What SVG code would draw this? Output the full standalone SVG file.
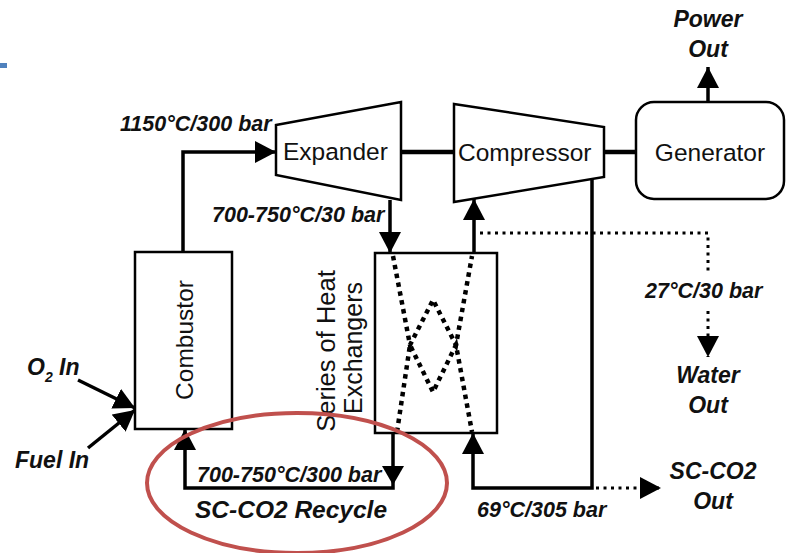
<svg xmlns="http://www.w3.org/2000/svg" width="786" height="553" viewBox="0 0 786 553">
<defs>
<style>
.box{fill:#fff;stroke:#000;stroke-width:2.5}
.flow{fill:none;stroke:#000;stroke-width:3.5}
.shaft{fill:none;stroke:#000;stroke-width:4.5}
.dot{fill:none;stroke:#000;stroke-width:3;stroke-dasharray:3 4.5}
.hxdot{fill:none;stroke:#000;stroke-width:4.5;stroke-dasharray:4.5 4.5}
.name{font-family:"Liberation Sans",Arial,sans-serif;font-size:24.5px;fill:#111}
.lbl{font-family:"Liberation Sans",Arial,sans-serif;font-size:21.5px;font-weight:bold;font-style:italic;fill:#111}
.big{font-family:"Liberation Sans",Arial,sans-serif;font-size:23px;font-weight:bold;font-style:italic;fill:#111}
</style>
<marker id="ah" markerUnits="userSpaceOnUse" markerWidth="21" markerHeight="22" viewBox="0 0 21 22" refX="21" refY="11" orient="auto">
<path d="M0,0 L21,11 L0,22 z" fill="#000"/>
</marker>
</defs>
<rect x="0" y="63" width="7" height="5" fill="#4f81bd"/>

<g id="connectors">
<path class="flow" d="M183,252 V152 H276" marker-end="url(#ah)"/>
<path class="flow" d="M390,200 V253" marker-end="url(#ah)"/>
<path class="shaft" d="M401,152 H454"/>
<path class="shaft" d="M604,152 H636"/>
<path class="flow" d="M708,102 V67" marker-end="url(#ah)"/>
<path class="flow" d="M474,253 V199" marker-end="url(#ah)"/>
<path class="dot" d="M480,233 H708 V272"/>
<path class="dot" d="M708,311 V357" marker-end="url(#ah)"/>
<path class="flow" d="M592,179 V488 H473 V433" marker-end="url(#ah)"/>
<path class="dot" d="M596,488 H661" marker-end="url(#ah)"/>
<path class="flow" d="M393,433 V488 H185 V429" marker-end="url(#ah)"/>
<path d="M382,466 L404,466 L393,485 z" fill="#000"/>
<path class="flow" d="M78,380 L135,408" marker-end="url(#ah)"/>
<path class="flow" d="M88,448 L135,410" marker-end="url(#ah)"/>
</g>

<g id="expander">
<polygon class="box" points="276,125 401,102 401,200 276,175"/>
<text class="name" x="283" y="160">Expander</text>
</g>
<g id="compressor">
<polygon class="box" points="454,104 604,127 604,177 454,202"/>
<text class="name" x="458" y="161">Compressor</text>
</g>
<g id="generator">
<rect class="box" x="636" y="102" width="148" height="97" rx="18"/>
<text class="name" x="710" y="161" text-anchor="middle">Generator</text>
</g>
<g id="combustor">
<rect class="box" x="135" y="252" width="97" height="177"/>
<text class="name" transform="translate(193,340) rotate(-90)" text-anchor="middle">Combustor</text>
</g>
<g id="heat-exchangers">
<rect class="box" x="375" y="253" width="122" height="180"/>
<path class="hxdot" d="M393,256 L410,345 L433,300 L456,345 L472,256"/>
<path class="hxdot" d="M397,432 L410,345 L433,392 L456,345 L472,432"/>
<text class="name" style="font-size:25.5px" transform="translate(335,351) rotate(-90)" text-anchor="middle">Series of Heat</text>
<text class="name" style="font-size:25px" transform="translate(362,348) rotate(-90)" text-anchor="middle">Exchangers</text>
</g>

<g id="labels">
<text class="lbl" x="120" y="131">1150°C/300 bar</text>
<text class="lbl" x="212" y="222">700-750°C/30 bar</text>
<text class="lbl" x="197" y="482">700-750°C/300 bar</text>
<text class="big" style="font-size:24.5px" x="195" y="518">SC-CO2 Recycle</text>
<text class="lbl" x="477" y="517">69°C/305 bar</text>
<text class="lbl" x="645" y="298">27°C/30 bar</text>
<text class="big" x="708" y="27" text-anchor="middle">Power</text>
<text class="big" x="708" y="57" text-anchor="middle">Out</text>
<text class="big" x="708" y="383" text-anchor="middle">Water</text>
<text class="big" x="708" y="413" text-anchor="middle">Out</text>
<text class="big" x="713" y="479" text-anchor="middle">SC-CO2</text>
<text class="big" x="713" y="509" text-anchor="middle">Out</text>
<text class="big" x="27" y="375">O<tspan font-size="14" dy="7">2</tspan><tspan dy="-7"> In</tspan></text>
<text class="big" x="15" y="468">Fuel In</text>
</g>

<ellipse cx="297" cy="483" rx="150" ry="70" fill="none" stroke="#c0504d" stroke-width="4"/>
</svg>
